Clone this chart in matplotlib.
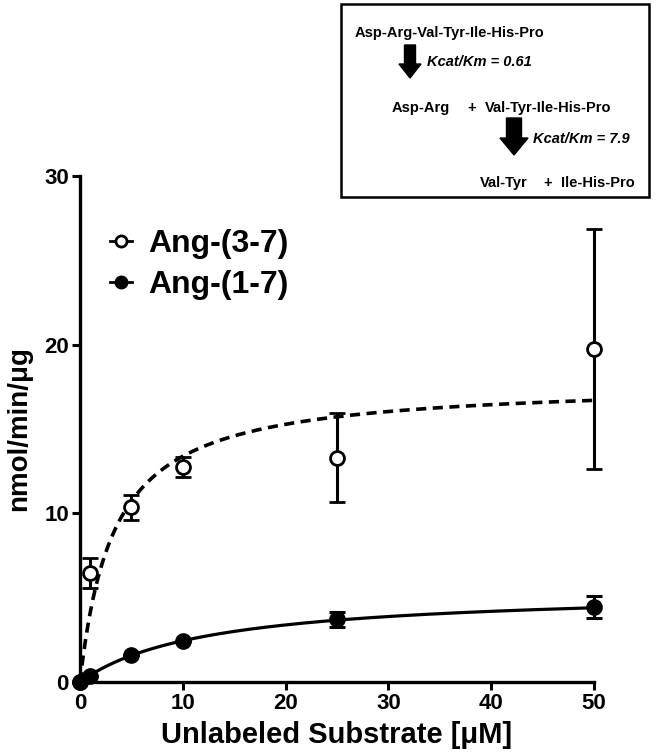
import matplotlib
matplotlib.use("Agg")
import matplotlib.pyplot as plt
import matplotlib.patches as mpatches
from matplotlib.lines import Line2D
import numpy as np

plt.rcParams['font.family'] = ['Liberation Sans', 'DejaVu Sans']
plt.rcParams['font.weight'] = 'bold'

# substrate concentrations (uM)
substrate = [0, 1, 5, 10, 25, 50]

# Ang-(3-7) formation from Ang-(1-7) substrate
ang37_rate = [0, 6.45, 10.35, 12.75, 13.3, 19.75]
ang37_err = [0, 0.9, 0.75, 0.6, 2.65, 7.1]

# Ang-(1-7) hydrolysis
ang17_rate = [0, 0.38, 1.6, 2.45, 3.72, 4.45]
ang17_err = [0, 0, 0, 0, 0.45, 0.65]

# Michaelis-Menten fit parameters (Vmax, Km)
ang37_fit = (17.8, 3.3)
ang17_fit = (5.5, 12.5)

W, H = 656, 755
fig = plt.figure(figsize=(W / 100, H / 100), dpi=100)
ax = fig.add_axes([80 / W, 1 - 682 / H, 514 / W, 506 / H])

# fitted curves
xs = np.linspace(0, 50, 400)
vmax, km = ang37_fit
ax.plot(xs, vmax * xs / (km + xs), color='black', lw=2.6,
        linestyle=(0, (2.8, 1.8)), clip_on=False)
vmax, km = ang17_fit
ax.plot(xs, vmax * xs / (km + xs), color='black', lw=2.3, clip_on=False)

# data points with error bars
ax.errorbar(substrate, ang37_rate, yerr=ang37_err, fmt='o', color='black',
            mfc='white', mec='black', mew=2, ms=10, elinewidth=2.2,
            capsize=6, capthick=2.2, clip_on=False, zorder=4)
ax.errorbar(substrate, ang17_rate, yerr=ang17_err, fmt='o', color='black',
            mfc='black', mec='black', ms=11, elinewidth=2.2,
            capsize=6, capthick=2.2, clip_on=False, zorder=4)

ax.set_xlim(0, 50)
ax.set_ylim(0, 30)
ax.set_xticks([0, 10, 20, 30, 40, 50])
ax.set_yticks([0, 10, 20, 30])
ax.spines['top'].set_visible(False)
ax.spines['right'].set_visible(False)
for side in ['left', 'bottom']:
    ax.spines[side].set_linewidth(2.4)
ax.tick_params(direction='out', length=6, width=2.2, labelsize=16, pad=2)

ax.set_xlabel('Unlabeled Substrate [\u03bcM]', fontsize=21, fontweight='bold')
ax.set_ylabel('nmol/min/\u03bcg', fontsize=20, fontweight='bold')
ax.xaxis.set_label_coords(0.5, -0.078)
ax.yaxis.set_label_coords(-0.093, 0.5)

# legend
handles = [
    Line2D([], [], color='black', lw=2, marker='o', mfc='white', mec='black',
           mew=2, ms=8),
    Line2D([], [], color='black', lw=2, marker='o', mfc='black', ms=9),
]
ax.legend(handles, ['Ang-(3-7)', 'Ang-(1-7)'], loc='upper left',
          bbox_to_anchor=(110 / W, 1 - 229 / H), bbox_transform=fig.transFigure,
          frameon=False, fontsize=23, handlelength=0.7, handletextpad=0.5,
          labelspacing=0.35, borderaxespad=0, borderpad=0)

# reaction scheme inset, drawn in pixel coordinates
ov = fig.add_axes([0, 0, 1, 1])
ov.set_xlim(0, W)
ov.set_ylim(H, 0)
ov.axis('off')
ov.add_patch(mpatches.Rectangle((341, 4), 308, 193, fill=False,
                                edgecolor='black', lw=1.8))
fs = 10.5
ov.text(355, 33, 'Asp-Arg-Val-Tyr-Ile-His-Pro', fontsize=fs, va='center')
ov.text(427, 62, 'Kcat/Km = 0.61', fontsize=fs, va='center', style='italic')
ov.text(392, 108, 'Asp-Arg', fontsize=fs, va='center')
ov.text(467, 108, '+', fontsize=fs, va='center')
ov.text(485, 108, 'Val-Tyr-Ile-His-Pro', fontsize=fs, va='center')
ov.text(533, 139, 'Kcat/Km = 7.9', fontsize=fs, va='center', style='italic')
ov.text(480, 183, 'Val-Tyr', fontsize=fs, va='center')
ov.text(543, 183, '+', fontsize=fs, va='center')
ov.text(561, 183, 'Ile-His-Pro', fontsize=fs, va='center')
ov.add_patch(mpatches.FancyArrow(410, 45, 0, 33, width=11, head_width=22,
                                 head_length=14, length_includes_head=True,
                                 color='black'))
ov.add_patch(mpatches.FancyArrow(514, 118, 0, 37, width=15, head_width=28,
                                 head_length=17, length_includes_head=True,
                                 color='black'))

fig.savefig('out.png', dpi=100)
